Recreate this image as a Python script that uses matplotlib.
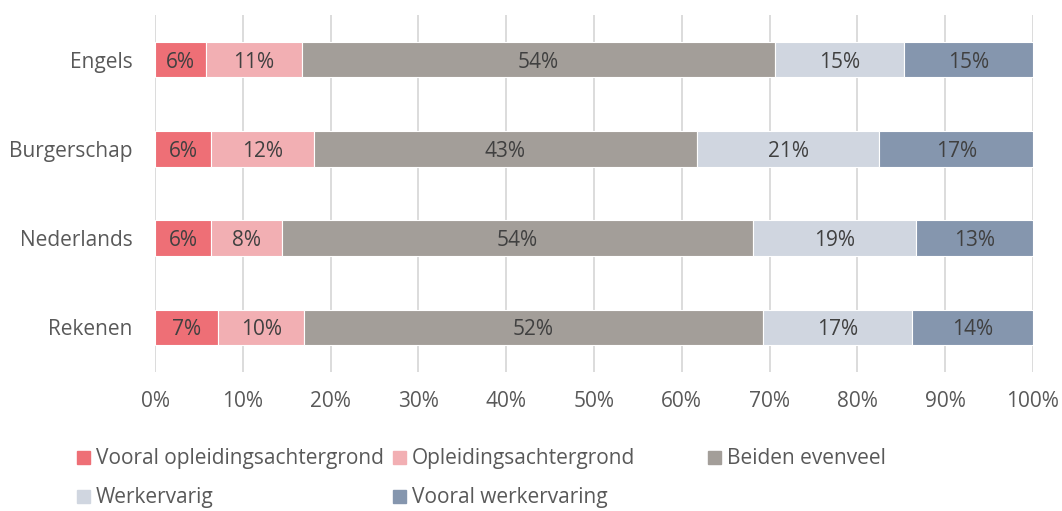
import matplotlib.pyplot as plt
from matplotlib.patches import Rectangle
import numpy as np

plt.rcParams['font.family'] = ['Open Sans', 'DejaVu Sans']

categories = ['Rekenen', 'Nederlands', 'Burgerschap', 'Engels']
series = ['Vooral opleidingsachtergrond', 'Opleidingsachtergrond', 'Beiden evenveel',
          'Werkervarig', 'Vooral werkervaring']
# percentages per category (bottom to top: Rekenen, Nederlands, Burgerschap, Engels)
values = [
    [7.2, 6.4, 6.4, 5.8],
    [9.8, 8.1, 11.6, 10.9],
    [52.2, 53.6, 43.4, 53.9],
    [17.0, 18.6, 20.7, 14.7],
    [13.8, 13.3, 17.4, 14.7],
]
colors = ['#EE6F76', '#F2AFB3', '#A39E99', '#D0D6E0', '#8596AE']

fig = plt.figure(figsize=(10.62, 5.11), dpi=100)
ax = fig.add_axes([155 / 1062, (511 - 372) / 511, (1033 - 155) / 1062, 357 / 511])

data = np.array(values)
shares = data / data.sum(axis=0) * 100  # 100% stacked

y = np.arange(len(categories))
left = np.zeros(len(categories))
for name, raw, vals, c in zip(series, data, shares, colors):
    ax.barh(y, vals, left=left, height=0.4, color=c, edgecolor='white', linewidth=0.8,
            label=name, zorder=3)
    for yi, l, v, r in zip(y, left, vals, raw):
        ax.text(l + v / 2, yi, f'{round(r):.0f}%', ha='center', va='center_baseline',
                fontsize=15, color='#404040', zorder=4)
    left += vals

ax.set_xlim(0, 100)
ax.set_ylim(-0.5, 3.5)
ax.set_yticks(y)
ax.set_yticklabels(categories)
ax.set_xticks(np.arange(0, 101, 10))
ax.set_xticklabels([f'{t}%' for t in range(0, 101, 10)])
ax.tick_params(axis='both', length=0, labelsize=15, colors='#595959')
ax.tick_params(axis='y', pad=16)
ax.tick_params(axis='x', pad=14)
ax.grid(axis='x', color='#D9D9D9', linewidth=1.3, zorder=0)
for s in ax.spines.values():
    s.set_visible(False)

# legend laid out like the Excel one: three fixed-width columns
pos = [(77, 458), (393, 458), (708, 458), (77, 497), (393, 497)]
for (px, py), name, c in zip(pos, series, colors):
    fig.add_artist(Rectangle((px / 1062, (511 - py - 6) / 511), 13 / 1062, 13 / 511,
                             transform=fig.transFigure, color=c))
    fig.text((px + 19) / 1062, (511 - py) / 511, name, ha='left', va='center',
             fontsize=15, color='#595959')

fig.savefig('out.png', dpi=100)
